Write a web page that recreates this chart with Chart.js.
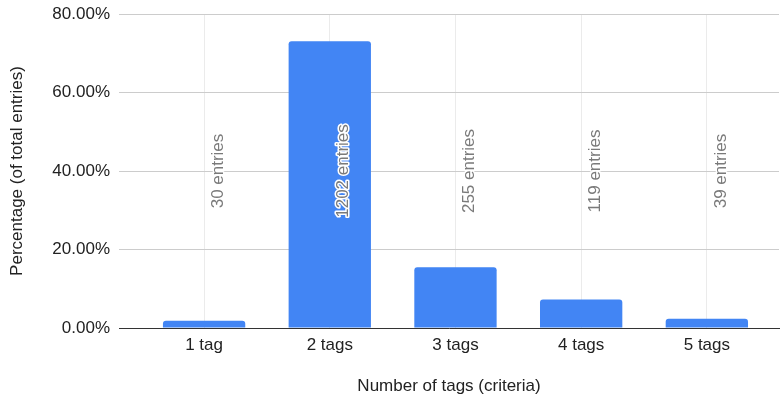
<!DOCTYPE html>
<html>
<head>
<meta charset="utf-8">
<script src="https://cdn.jsdelivr.net/npm/chart.js@4/dist/chart.umd.min.js"></script>
<style>
  html, body { margin: 0; padding: 0; background: #ffffff; }
  #wrap { width: 780px; height: 400px; position: relative; }
</style>
</head>
<body>
<div id="wrap"><canvas id="chart"></canvas></div>
<script>
// Categories, share of entries (%) and entry counts per tag count
const categories = ["1 tag", "2 tags", "3 tags", "4 tags", "5 tags"];
const percentages = [1.82, 73.07, 15.50, 7.23, 2.37];
const entryCounts = [30, 1202, 255, 119, 39];
const yTicks = [0, 20, 40, 60, 80];

const FONT = "'Liberation Sans', Arial, sans-serif";

// Rotated "N entries" annotations with a white halo
const entryLabels = {
  id: 'entryLabels',
  afterDatasetsDraw(chart) {
    const ctx = chart.ctx;
    const area = chart.chartArea;
    const meta = chart.getDatasetMeta(0);
    const yMid = (area.top + area.bottom) / 2;
    ctx.save();
    ctx.font = '17px ' + FONT;
    ctx.textAlign = 'center';
    ctx.textBaseline = 'middle';
    ctx.lineJoin = 'round';
    meta.data.forEach((bar, i) => {
      ctx.save();
      ctx.translate(bar.x + 14, yMid);
      ctx.rotate(-Math.PI / 2);
      const text = entryCounts[i] + ' entries';
      ctx.strokeStyle = '#ffffff';
      ctx.lineWidth = 3;
      ctx.strokeText(text, 0, 0);
      ctx.fillStyle = '#7a7a7a';
      ctx.fillText(text, 0, 0);
      ctx.restore();
    });
    ctx.restore();
  }
};

new Chart(document.getElementById('chart'), {
  type: 'bar',
  data: {
    datasets: [{
      data: categories.map((c, i) => ({ x: i + 1, y: percentages[i] })),
      backgroundColor: '#4285f4',
      borderRadius: { topLeft: 3, topRight: 3, bottomLeft: 0, bottomRight: 0 },
      borderSkipped: 'bottom',
      barPercentage: 0.655,
      categoryPercentage: 1
    }]
  },
  plugins: [entryLabels],
  options: {
    responsive: true,
    maintainAspectRatio: false,
    animation: false,
    events: [],
    layout: { padding: { top: 14, right: 1, bottom: 0, left: 0 } },
    plugins: {
      legend: { display: false },
      tooltip: { enabled: false }
    },
    scales: {
      x: {
        type: 'linear',
        offset: false,
        min: 0.323,
        max: 5.574,
        afterBuildTicks(scale) {
          scale.ticks = categories.map((c, i) => ({ value: i + 1 }));
        },
        afterFit(scale) { scale.height = 72; },
        ticks: {
          callback: (v) => categories[v - 1],
          font: { family: FONT, size: 17 },
          color: '#222222',
          padding: 7,
          maxRotation: 0,
          autoSkip: false
        },
        grid: {
          offset: false,
          color: '#ebebeb',
          lineWidth: 1,
          drawTicks: false
        },
        border: { display: true, color: '#333333', width: 1 },
        title: {
          display: true,
          text: 'Number of tags (criteria)',
          font: { family: FONT, size: 17 },
          color: '#222222',
          padding: { top: 0, bottom: 3 }
        }
      },
      y: {
        min: 0,
        max: 80,
        afterBuildTicks(scale) {
          scale.ticks = yTicks.map(v => ({ value: v }));
        },
        afterFit(scale) {
          scale.width = 119;
          scale.paddingTop = 0;
          scale.paddingBottom = 0;
        },
        ticks: {
          callback: (v) => v.toFixed(2) + '%',
          font: { family: FONT, size: 17 },
          color: '#222222',
          padding: 9
        },
        grid: {
          color: '#cccccc',
          lineWidth: 1,
          drawTicks: false
        },
        border: { display: false },
        title: {
          display: true,
          text: 'Percentage (of total entries)',
          font: { family: FONT, size: 17 },
          color: '#222222',
          padding: { top: 7, bottom: 0 }
        }
      }
    }
  }
});
</script>
</body>
</html>
